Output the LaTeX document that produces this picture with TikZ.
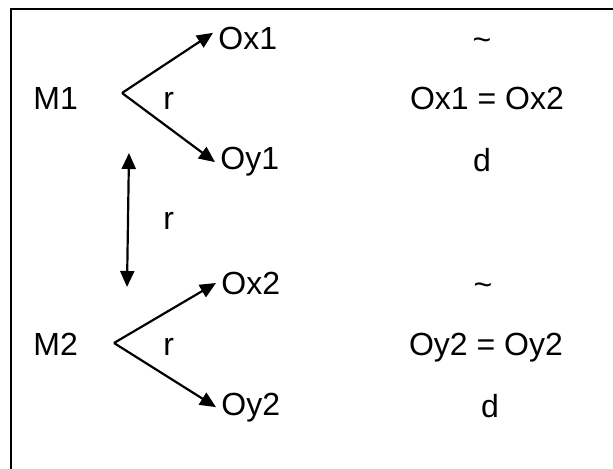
\documentclass[tikz,border=0pt]{standalone}
\usepackage{fontspec}
\setmainfont{Liberation Sans}
\usetikzlibrary{arrows.meta}

\begin{document}
\begin{tikzpicture}[
    x=0.5pt, y=-0.5pt,
    every node/.style={font=\fontsize{16}{19}\selectfont},
    lbl/.style={inner sep=2.5pt, anchor=base west},
    rel/.style={inner sep=0pt, anchor=base},
    fr/.style={draw=black, line width=1.3pt},
    te/.style={draw=black, line width=1.1pt, -{Triangle[length=8pt,width=7pt]}},
]
    \useasboundingbox (0,0) rectangle (613,469);

    % Frame
    \draw[fr] (11,9) rectangle (640,500);

    % Model 1
    \node[lbl] (m1)  at (28,110)  {M1};
    \coordinate (b1) at (122,93);
    \node[lbl] (ox1) at (213,50)  {Ox1};
    \node[lbl] (oy1) at (215,170) {Oy1};
    \node[lbl] (r1)  at (158,110) {r};

    % Link
    \coordinate (vt) at (129,153);
    \coordinate (vb) at (127,287);
    \node[lbl] (r2)  at (158,230) {r};

    % Model 2
    \node[lbl] (m2)  at (28,355)  {M2};
    \coordinate (b2) at (114,343);
    \node[lbl] (ox2) at (216,294) {Ox2};
    \node[lbl] (oy2) at (216,415) {Oy2};
    \node[lbl] (r3)  at (158,355) {r};

    % Relations
    \node[rel] (t1) at (482,51)  {\textasciitilde};
    \node[rel] (e1) at (487,110) {Ox1 = Ox2};
    \node[rel] (d1) at (482,172) {d};
    \node[rel] (t2) at (483,295) {\textasciitilde};
    \node[rel] (e2) at (486,355) {Oy2 = Oy2};
    \node[rel] (d2) at (490,417) {d};

    % Edges
    \foreach \a/\b in {b1/ox1.170, b1/oy1.west, b2/ox2.west, b2/oy2.west}
        \draw[te] (\a) -- (\b);
    \draw[te, {Triangle[length=8pt,width=7pt]}-{Triangle[length=8pt,width=7pt]}] (vt) -- (vb);
\end{tikzpicture}
\end{document}
